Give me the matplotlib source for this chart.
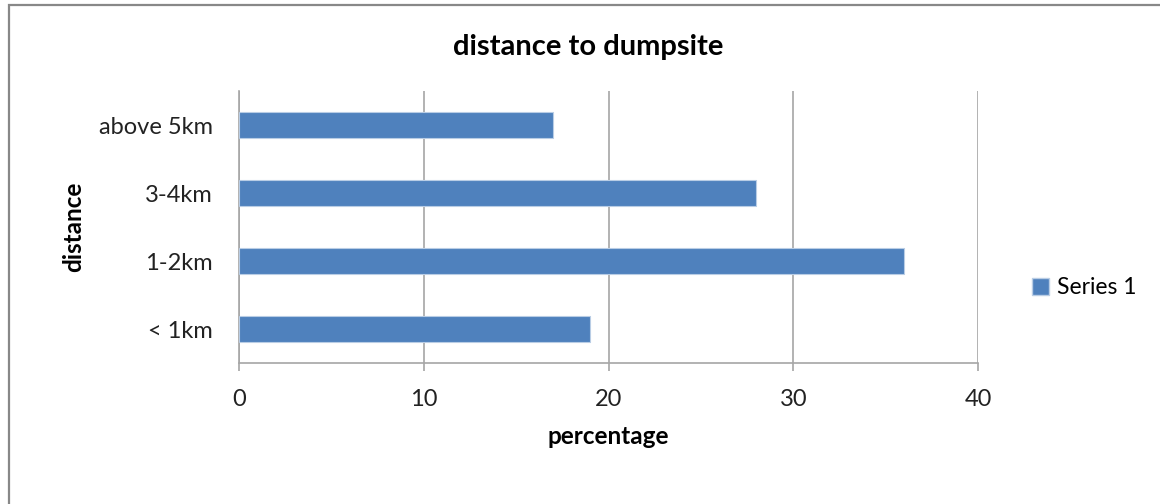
import matplotlib.pyplot as plt
from matplotlib.patches import Rectangle, Patch

# distance categories (bottom to top) and share of respondents
categories = ['< 1km', '1-2km', '3-4km', 'above 5km']
percentages = [19, 36, 28, 17]
x_ticks = [0, 10, 20, 30, 40]

plt.rcParams['font.family'] = ['Lato', 'DejaVu Sans']

bar_color = '#4F81BD'
grid_color = '#A6A6A6'

fig = plt.figure(figsize=(11.6, 5.04), dpi=100)
ax = fig.add_axes([239 / 1160, 1 - 363 / 504, (978 - 239) / 1160, (363 - 91) / 504])

ax.barh(categories, percentages, height=0.38, color=bar_color,
        edgecolor='#B9CDE5', linewidth=0.8, zorder=3)

ax.set_xlim(0, 40)
ax.set_ylim(-0.5, 3.5)
ax.set_xticks(x_ticks)
ax.xaxis.grid(True, color=grid_color, linewidth=1.2, zorder=0)

for side in ['top', 'right']:
    ax.spines[side].set_visible(False)
ax.spines['left'].set_color(grid_color)
ax.spines['bottom'].set_color(grid_color)
ax.spines['left'].set_linewidth(1.2)
ax.spines['bottom'].set_linewidth(1.2)

ax.tick_params(axis='x', length=6, width=1.2, color=grid_color,
               labelsize=17, pad=12.5, labelcolor='#222222')
ax.tick_params(axis='y', length=0, labelsize=17, pad=19, labelcolor='#222222')

ax.set_xlabel('percentage', fontsize=17.5, fontweight='bold', labelpad=11)
ax.set_ylabel('distance', fontsize=17.5, fontweight='bold', labelpad=10)

fig.text(588 / 1160, 1 - 47 / 504, 'distance to dumpsite', ha='center', va='center',
         fontsize=21, fontweight='bold')

fig.legend(handles=[Patch(facecolor=bar_color, edgecolor='#B9CDE5', label='Series 1')],
           loc='center left', bbox_to_anchor=(1032 / 1160, 1 - 288 / 504),
           frameon=False, fontsize=16.5, handlelength=0.75, handleheight=0.75,
           handletextpad=0.35, borderaxespad=0, borderpad=0)

# outer chart frame
fig.patches.append(Rectangle((8.5 / 1160, -0.1), 1.2, 1.1 - 5.5 / 504,
                             transform=fig.transFigure, fill=False,
                             edgecolor='#888888', linewidth=1.6))

fig.savefig('out.png', dpi=100)
